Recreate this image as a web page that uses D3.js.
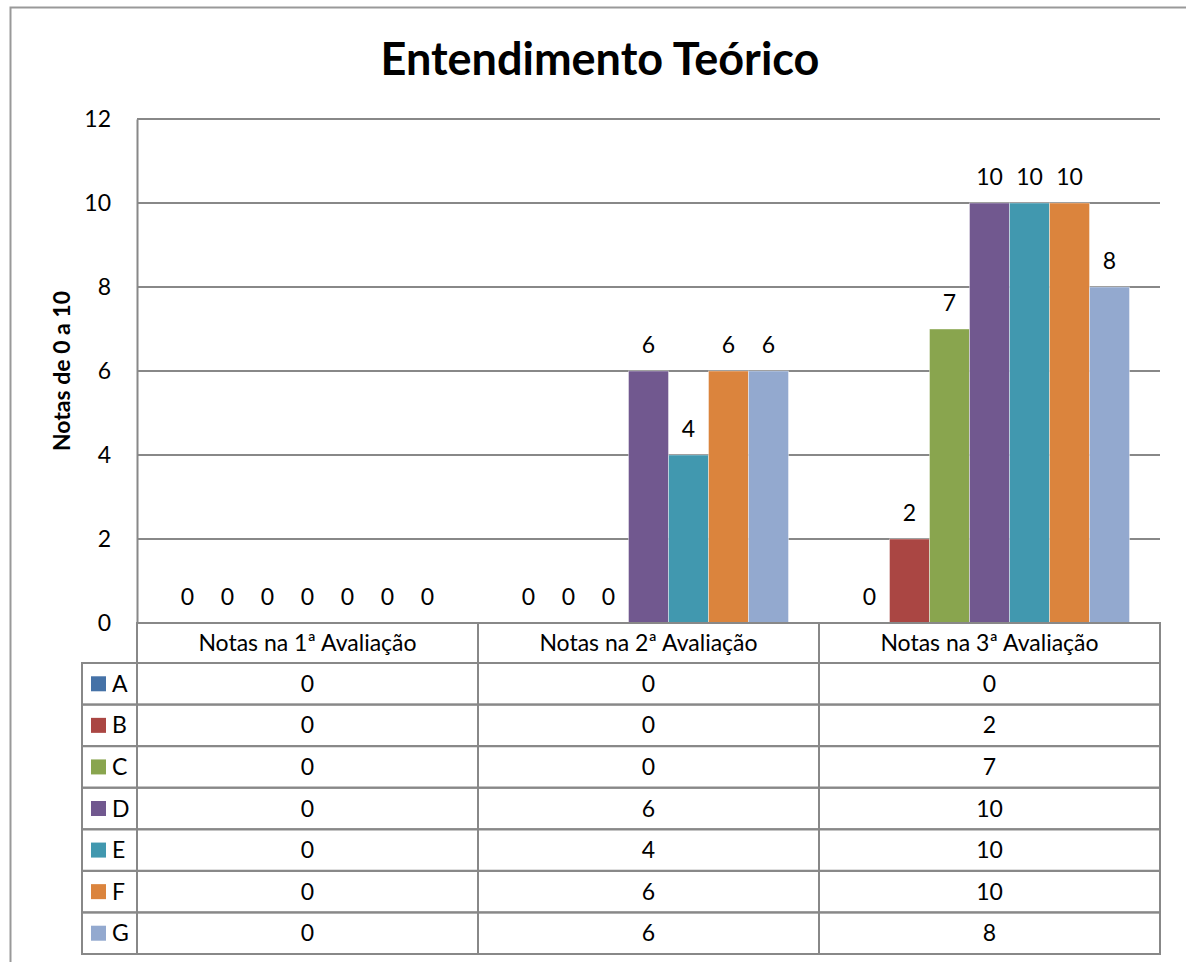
<!DOCTYPE html>
<html>
<head>
<meta charset="utf-8">
<script src="https://cdn.jsdelivr.net/npm/d3@7"></script>
<style>
  body { margin: 0; background: #fff; }
  svg text { font-family: Lato, "Liberation Sans", sans-serif; fill: #000; }
</style>
</head>
<body>
<div id="chart"></div>
<script>
// data
const categories = ["Notas na 1ª Avaliação", "Notas na 2ª Avaliação", "Notas na 3ª Avaliação"];
const seriesNames = ["A", "B", "C", "D", "E", "F", "G"];
const colors = ["#4572A7", "#AA4643", "#89A54E", "#71588F", "#4198AF", "#DB843D", "#93A9CF"];
const valuesA = [0, 0, 0];
const valuesB = [0, 0, 2];
const valuesC = [0, 0, 7];
const valuesD = [0, 6, 10];
const valuesE = [0, 4, 10];
const valuesF = [0, 6, 10];
const valuesG = [0, 6, 8];
const yTicks = [0, 2, 4, 6, 8, 10, 12];

const seriesValues = [valuesA, valuesB, valuesC, valuesD, valuesE, valuesF, valuesG];

const W = 1186, H = 962;
const plot = { left: 137, top: 119, right: 1160, bottom: 623 };
const gridColor = "#888";
const fs = "23px";

const svg = d3.select("#chart").append("svg")
  .attr("width", W)
  .attr("height", H);

// outer frame
svg.append("rect")
  .attr("x", 10.5).attr("y", 7.5)
  .attr("width", W + 20).attr("height", H + 20)
  .attr("fill", "none")
  .attr("stroke", "#999")
  .attr("stroke-width", 2);

// title
svg.append("text")
  .attr("x", 600).attr("y", 75)
  .attr("text-anchor", "middle")
  .style("font-size", "45px")
  .style("font-weight", "bold")
  .text("Entendimento Teórico");

// scales
const x = d3.scaleBand()
  .domain(categories)
  .range([plot.left, plot.right])
  .paddingInner(0).paddingOuter(0);

const xs = d3.scaleBand()
  .domain(seriesNames)
  .range([0, x.bandwidth()])
  .paddingInner(0)
  .paddingOuter(0.7625);

const y = d3.scaleLinear()
  .domain([0, 12])
  .range([plot.bottom, plot.top]);

// gridlines
svg.append("g")
  .selectAll("line")
  .data(yTicks)
  .enter()
  .append("line")
  .attr("x1", plot.left)
  .attr("x2", plot.right)
  .attr("y1", d => y(d))
  .attr("y2", d => y(d))
  .attr("stroke", gridColor)
  .attr("stroke-width", 2);

// y axis
const yAxis = svg.append("g")
  .attr("transform", `translate(${plot.left},0)`)
  .call(d3.axisLeft(y).tickValues(yTicks).tickSize(0).tickPadding(26));
yAxis.select(".domain").attr("stroke", gridColor).attr("stroke-width", 2);
yAxis.selectAll("text")
  .style("font-size", fs)
  .style("font-family", "Lato, 'Liberation Sans', sans-serif");

svg.append("text")
  .attr("transform", "translate(70,371) rotate(-90)")
  .attr("text-anchor", "middle")
  .style("font-size", "23px")
  .style("font-weight", "bold")
  .text("Notas de 0 a 10");

// bars
const groups = svg.append("g")
  .selectAll("g")
  .data(categories)
  .enter()
  .append("g")
  .attr("transform", d => `translate(${x(d)},0)`);

groups.selectAll("rect")
  .data((c, ci) => seriesNames.map((s, si) => ({ s: s, v: seriesValues[si][ci], color: colors[si] })))
  .enter()
  .append("rect")
  .attr("x", d => xs(d.s))
  .attr("y", d => y(d.v))
  .attr("width", xs.bandwidth())
  .attr("height", d => y(0) - y(d.v))
  .attr("fill", d => d.color)
  .attr("stroke", "rgba(255,255,255,0.5)")
  .attr("stroke-width", 0.8);

groups.selectAll("text.lbl")
  .data((c, ci) => seriesNames.map((s, si) => ({ s: s, v: seriesValues[si][ci] })))
  .enter()
  .append("text")
  .attr("class", "lbl")
  .attr("x", d => xs(d.s) + xs.bandwidth() / 2)
  .attr("y", d => y(d.v) - 18)
  .attr("text-anchor", "middle")
  .style("font-size", fs)
  .text(d => d.v);

// data table
const headerH = 40;
const rowH = (954 - 663) / seriesNames.length;
const tableTop = plot.bottom;
const legendLeft = 82;
const tg = svg.append("g");

// header row
categories.forEach(c => {
  tg.append("rect")
    .attr("x", x(c)).attr("y", tableTop)
    .attr("width", x.bandwidth()).attr("height", headerH)
    .attr("fill", "none").attr("stroke", gridColor).attr("stroke-width", 2);
  tg.append("text")
    .attr("x", x(c) + x.bandwidth() / 2)
    .attr("y", tableTop + headerH / 2 + 8)
    .attr("text-anchor", "middle")
    .style("font-size", fs)
    .text(c);
});

seriesNames.forEach((s, si) => {
  const ry = tableTop + headerH + si * rowH;
  tg.append("rect")
    .attr("x", legendLeft).attr("y", ry)
    .attr("width", plot.left - legendLeft).attr("height", rowH)
    .attr("fill", "none").attr("stroke", gridColor).attr("stroke-width", 2);
  tg.append("rect")
    .attr("x", 91).attr("y", ry + rowH / 2 - 7.5)
    .attr("width", 15).attr("height", 15)
    .attr("fill", colors[si]);
  tg.append("text")
    .attr("x", 112).attr("y", ry + rowH / 2 + 8)
    .style("font-size", fs)
    .text(s);
  categories.forEach((c, ci) => {
    tg.append("rect")
      .attr("x", x(c)).attr("y", ry)
      .attr("width", x.bandwidth()).attr("height", rowH)
      .attr("fill", "none").attr("stroke", gridColor).attr("stroke-width", 2);
    tg.append("text")
      .attr("x", x(c) + x.bandwidth() / 2)
      .attr("y", ry + rowH / 2 + 8)
      .attr("text-anchor", "middle")
      .style("font-size", fs)
      .text(seriesValues[si][ci]);
  });
});
</script>
</body>
</html>
